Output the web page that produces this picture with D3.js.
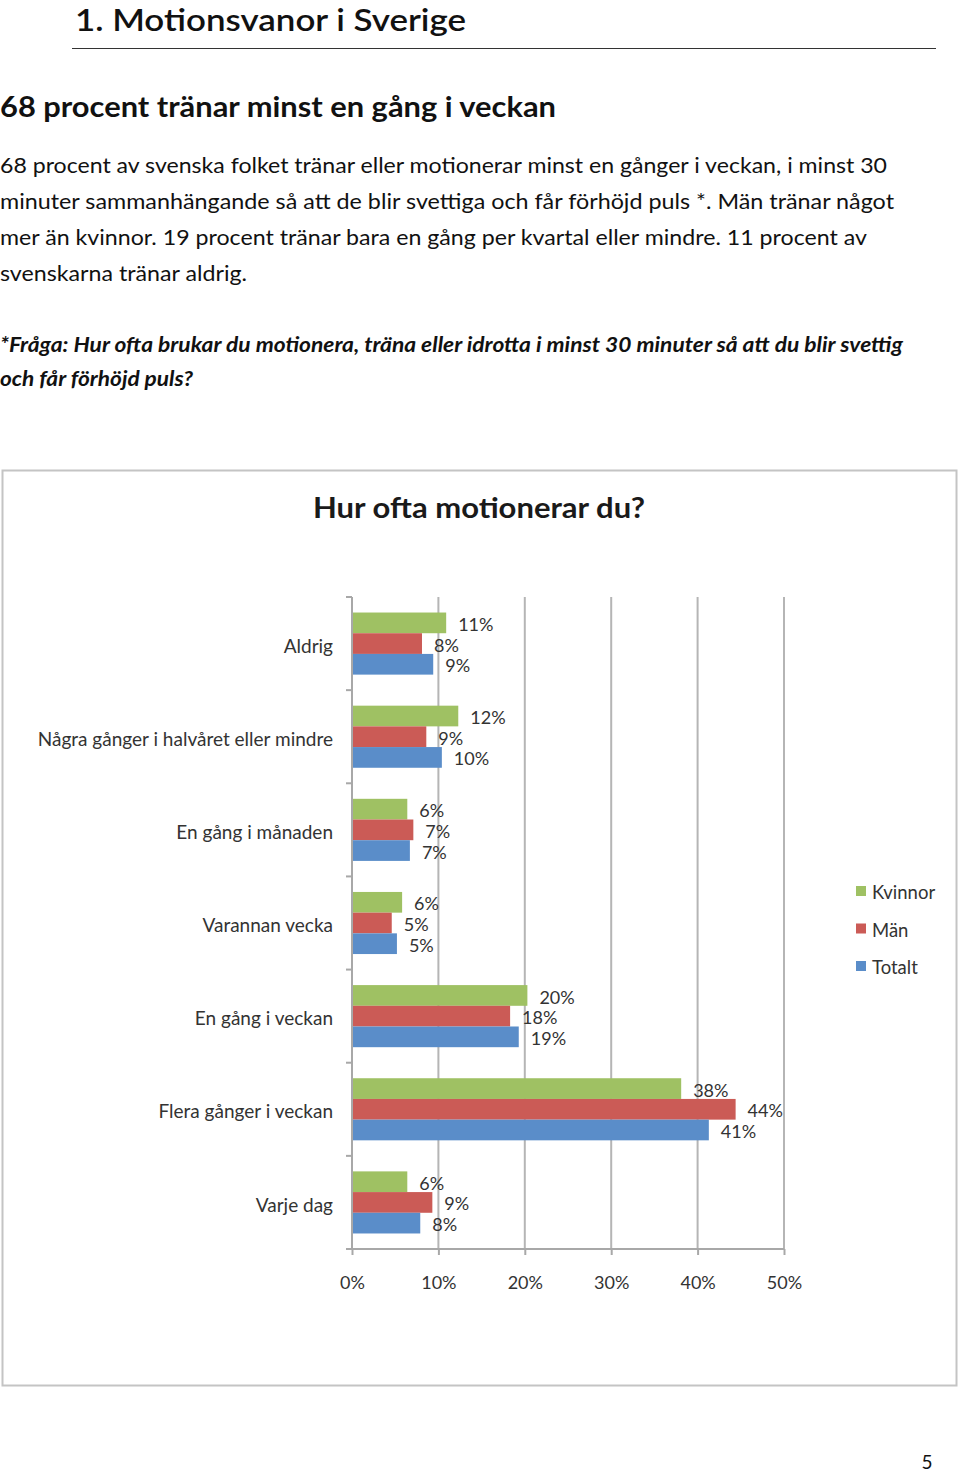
<!DOCTYPE html>
<html>
<head>
<meta charset="utf-8">
<script src="https://cdn.jsdelivr.net/npm/d3@7"></script>
<style>
  html, body { margin: 0; padding: 0; background: #fff; }
  svg { display: block; }
</style>
</head>
<body>
<svg id="page" width="960" height="1474"></svg>
<script>
// ---- data ----
const categories = ["Aldrig", "Några gånger i halvåret eller mindre", "En gång i månaden",
  "Varannan vecka", "En gång i veckan", "Flera gånger i veckan", "Varje dag"];
const seriesNames = ["Kvinnor", "Män", "Totalt"];
const kvinnor = [0.109, 0.123, 0.064, 0.058, 0.203, 0.381, 0.064];
const man     = [0.081, 0.086, 0.071, 0.046, 0.183, 0.444, 0.093];
const totalt  = [0.094, 0.104, 0.067, 0.052, 0.193, 0.413, 0.079];
const xTicks = [0, 0.1, 0.2, 0.3, 0.4, 0.5];
const chartTitle = "Hur ofta motionerar du?";

const docHeading = "1. Motionsvanor i Sverige";
const subHeading = "68 procent tränar minst en gång i veckan";
const paragraph = [
  "68 procent av svenska folket tränar eller motionerar minst en gånger i veckan, i minst 30",
  "minuter sammanhängande så att de blir svettiga och får förhöjd puls *. Män tränar något",
  "mer än kvinnor. 19 procent tränar bara en gång per kvartal eller mindre. 11 procent av",
  "svenskarna tränar aldrig."
];
const paragraphWidths = [887, 894, 867, 247];
const question = [
  "*Fråga: Hur ofta brukar du motionera, träna eller idrotta i minst 30 minuter så att du blir svettig",
  "och får förhöjd puls?"
];
const questionWidths = [903, 193];
const pageNumber = "5";

const colors = {"Kvinnor": "#9fc163", "Män": "#cb5b56", "Totalt": "#5a8dc9"};
const FONT = "Lato, 'Open Sans', 'DejaVu Sans', sans-serif";

const svg = d3.select("#page").style("font-family", FONT);

// ---- document text ----
svg.append("text").attr("x", 75).attr("y", 31).attr("font-size", 31).attr("font-weight", 600)
  .attr("fill", "#111").attr("textLength", 391).attr("lengthAdjust", "spacingAndGlyphs").text(docHeading);
svg.append("line").attr("x1", 72).attr("x2", 936).attr("y1", 48.5).attr("y2", 48.5)
  .attr("stroke", "#333").attr("stroke-width", 1.2);
svg.append("text").attr("x", 0).attr("y", 117).attr("font-size", 29).attr("font-weight", 700)
  .attr("fill", "#111").attr("textLength", 556).attr("lengthAdjust", "spacingAndGlyphs").text(subHeading);

svg.append("g").selectAll("text").data(paragraph).join("text")
  .attr("x", 0).attr("y", (d, i) => 173 + i * 36).attr("font-size", 21.5).attr("fill", "#111")
  .attr("textLength", (d, i) => paragraphWidths[i]).attr("lengthAdjust", "spacingAndGlyphs")
  .text(d => d);

svg.append("g").selectAll("text").data(question).join("text")
  .attr("x", 0).attr("y", (d, i) => 352 + i * 34).attr("font-size", 20.5).attr("font-weight", 700)
  .attr("font-style", "italic").attr("fill", "#111")
  .attr("textLength", (d, i) => questionWidths[i]).attr("lengthAdjust", "spacingAndGlyphs")
  .text(d => d);

svg.append("text").attr("x", 927).attr("y", 1469).attr("font-size", 19).attr("text-anchor", "middle")
  .attr("fill", "#111").text(pageNumber);

// ---- chart frame ----
svg.append("rect").attr("x", 2.5).attr("y", 470.5).attr("width", 954).attr("height", 915)
  .attr("fill", "#fff").attr("stroke", "#c4c4c4").attr("stroke-width", 2);

svg.append("text").attr("x", 479).attr("y", 518).attr("text-anchor", "middle")
  .attr("font-size", 28).attr("font-weight", 700).attr("fill", "#1a1a1a")
  .attr("textLength", 332).attr("lengthAdjust", "spacingAndGlyphs").text(chartTitle);

// ---- scales ----
const x = d3.scaleLinear().domain([0, 0.5]).range([352, 784]);
const y = d3.scaleBand().domain(categories).range([597, 1249]).paddingInner(0).paddingOuter(0);
const bw = y.bandwidth();
const yInner = d3.scaleBand().domain(seriesNames).range([bw / 6, bw * 5 / 6]);

const gridColor = "#b5b5b5";
// gridlines
svg.append("g").selectAll("line").data(xTicks.slice(1)).join("line")
  .attr("x1", d => x(d)).attr("x2", d => x(d)).attr("y1", 597).attr("y2", 1249)
  .attr("stroke", gridColor).attr("stroke-width", 2);

// bars
const seriesData = seriesNames.map((s, si) => ({
  name: s,
  values: [kvinnor, man, totalt][si]
}));
const fmt = d3.format(".0%");

const barG = svg.append("g");
seriesData.forEach(s => {
  const rows = categories.map((c, i) => ({cat: c, v: s.values[i]}));
  barG.append("g").selectAll("rect").data(rows).join("rect")
    .attr("x", x(0)).attr("y", d => y(d.cat) + yInner(s.name))
    .attr("width", d => x(d.v) - x(0)).attr("height", yInner.bandwidth())
    .attr("fill", colors[s.name]);
});
// labels (drawn after all bars)
seriesData.forEach(s => {
  const rows = categories.map((c, i) => ({cat: c, v: s.values[i]}));
  svg.append("g").selectAll("text").data(rows).join("text")
    .attr("x", d => x(d.v) + 12).attr("y", d => y(d.cat) + yInner(s.name) + yInner.bandwidth() / 2 + 3.5)
    .attr("dominant-baseline", "middle").attr("font-size", 18).attr("fill", "#333")
    .text(d => fmt(Math.round(d.v * 100) / 100));
});

// left axis
const axisColor = "#a8a8a8";
const leftAxis = svg.append("g").attr("transform", `translate(${x(0)},0)`)
  .call(d3.axisLeft(y).tickSize(0).tickPadding(19).tickFormat(d => d));
leftAxis.select(".domain").attr("stroke", axisColor).attr("stroke-width", 2).attr("d", "M0,597V1249");
leftAxis.selectAll("text").attr("font-size", 19).attr("fill", "#333").attr("font-family", FONT)
  .attr("transform", "translate(0,3)");
const boundaries = categories.map(c => y(c)).concat([y.range()[1]]);
svg.append("g").selectAll("line").data(boundaries).join("line")
  .attr("x1", x(0) - 6).attr("x2", x(0)).attr("y1", d => d).attr("y2", d => d)
  .attr("stroke", axisColor).attr("stroke-width", 2);

// bottom axis
const bottomAxis = svg.append("g").attr("transform", "translate(0,1249)")
  .call(d3.axisBottom(x).tickValues(xTicks).tickFormat(fmt).tickSize(6).tickPadding(21));
bottomAxis.select(".domain").attr("stroke", axisColor).attr("stroke-width", 2).attr("d", `M${x(0)},0H${x(0.5)}`);
bottomAxis.selectAll(".tick line").attr("stroke", axisColor).attr("stroke-width", 2);
bottomAxis.selectAll("text").attr("font-size", 18).attr("fill", "#333").attr("font-family", FONT);

// legend
const legend = svg.append("g").attr("transform", "translate(856,886)");
seriesNames.forEach((s, i) => {
  const g = legend.append("g").attr("transform", `translate(0,${i * 37.5})`);
  g.append("rect").attr("width", 10).attr("height", 10).attr("fill", colors[s]);
  g.append("text").attr("x", 16).attr("y", 8.5).attr("dominant-baseline", "middle")
    .attr("font-size", 18.5).attr("fill", "#333").text(s);
});
</script>
</body>
</html>
